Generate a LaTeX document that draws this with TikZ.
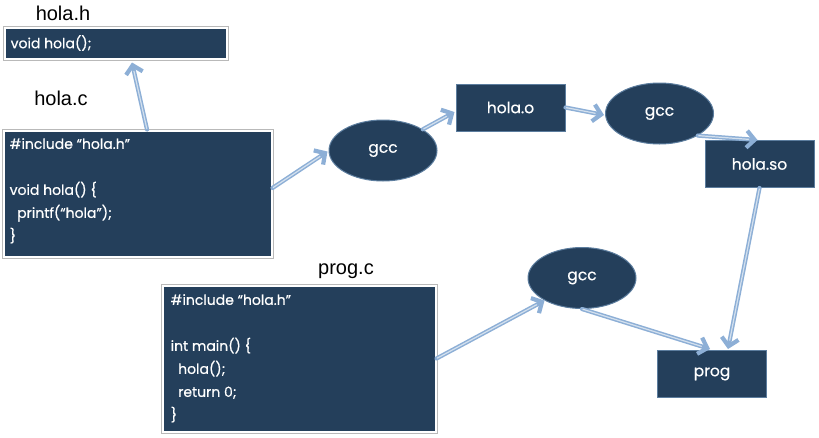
\documentclass[tikz,border=0pt]{standalone}
\usepackage{fontspec}
\setmainfont{Liberation Sans}
\newfontfamily\codefont[FakeBold=0.5]{Poppins}
\usetikzlibrary{arrows.meta,shapes.geometric,calc,shadows}
\definecolor{darkbox}{HTML}{243F5B}
\definecolor{boxedge}{HTML}{5C7D9E}
\definecolor{arrowblue}{HTML}{8DAFD6}
\definecolor{arrowin}{HTML}{D3E0EE}
\tikzset{
  codebox/.style={rectangle, fill=darkbox, draw=white, line width=2pt, inner sep=0pt,
    preaction={draw=gray!55, line width=4pt},
    drop shadow={shadow xshift=1.5pt, shadow yshift=-1.5pt, opacity=0.25}},
  codetext/.style={anchor=north west, inner sep=0pt, align=left, text=white,
    font=\codefont\fontsize{14}{23}\selectfont},
  filebox/.style={rectangle, fill=darkbox, draw=boxedge, line width=1pt, inner sep=0pt,
    minimum width=109pt, minimum height=47pt, text=white, font=\codefont\fontsize{15.5}{17}\selectfont},
  gccnode/.style={ellipse, fill=darkbox, draw=boxedge, line width=1pt, inner sep=0pt,
    minimum width=108pt, minimum height=61pt, text=white, font=\codefont\fontsize{15.5}{17}\selectfont},
  fname/.style={inner sep=0pt, font=\fontsize{20}{22}\selectfont},
  flow/.style={draw=arrowblue, line width=4.2pt, line cap=round,
    -{Straight Barb[length=8pt,width=17pt,line width=4.2pt]},
    postaction={draw=arrowin, line width=1.2pt, -, shorten >=9pt, shorten <=1pt}},
}
\begin{document}
\begin{tikzpicture}[x=1pt,y=-1pt]
\useasboundingbox (0,0) rectangle (819,437);
% file name labels
\node[fname] (lhh) at (63,13) {hola.h};
\node[fname] (lhc) at (61,98) {hola.c};
\node[fname] (lpc) at (346,271) {prog.c};
% code boxes
\node[codebox, minimum width=222pt, minimum height=31pt] (hh) at (115.5,43) {};
\node[anchor=west, inner sep=0pt, text=white, font=\codefont\fontsize{14}{16}\selectfont] (hht) at ($(hh.west)+(7,0)$) {void hola();};
\node[codebox, minimum width=268pt, minimum height=126pt] (hc) at (137.5,193.5) {};
\node[codetext] (hct) at ($(hc.north west)+(7,8.5)$) {\#include “hola.h”\\[23pt]void hola() \{\\\ \ printf(“hola”);\\\}};
\node[codebox, minimum width=273pt, minimum height=146pt] (pc) at (299,358.5) {};
\node[codetext] (pct) at ($(pc.north west)+(9,9.5)$) {\#include “hola.h”\\[23pt]int main() \{\\\ \ hola();\\\ \ return 0;\\\}};
% compile nodes
\node[gccnode] (g1) at (383,150.5) {gcc};
\node[gccnode] (g2) at (659.5,113.5) {gcc};
\node[gccnode] (g3) at (582,278) {gcc};
\node[filebox] (ho) at (510.5,107.5) {hola.o};
\node[filebox] (hs) at (759.5,164) {hola.so};
\node[filebox] (pg) at (712,374) {prog};
% connectors
\draw[flow] ($(hc.north)+(9.5,0)$) -- ($(hh.south)+(16.5,3)$);
\draw[flow] ($(hc.east)+(0,-5.5)$) -- ($(g1.west)+(-1,1)$);
\draw[flow] (g1.28) -- ($(ho.west)+(-1,4.5)$);
\draw[flow] (ho.east) -- ($(g2.west)+(-1,1.5)$);
\draw[flow] (g2.-30) -- ($(hs.north)+(-2,0)$);
\draw[flow] (hs.south) -- ($(pg.north)+(16,-1)$);
\draw[flow] (pc.east) -- (g3.211);
\draw[flow] (g3.south) -- ($(pg.north)+(-2,-1)$);
\end{tikzpicture}
\end{document}
